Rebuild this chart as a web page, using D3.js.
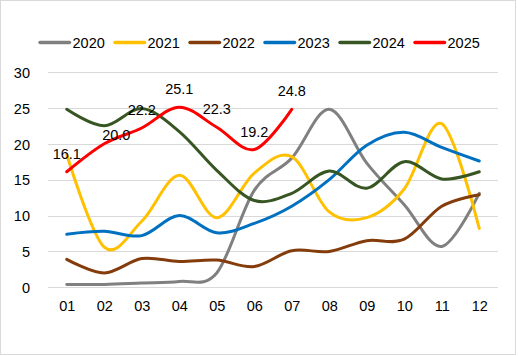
<!DOCTYPE html>
<html>
<head>
<meta charset="utf-8">
<script src="https://cdn.jsdelivr.net/npm/d3@7"></script>
<style>
  html, body { margin: 0; padding: 0; background: #fff; }
  svg { display: block; font-family: "Liberation Sans", Arial, sans-serif; }
</style>
</head>
<body>
<svg id="chart" width="518" height="356"></svg>
<script>
const months = ["01","02","03","04","05","06","07","08","09","10","11","12"];
const seriesNames = ["2020","2021","2022","2023","2024","2025"];
const seriesColors = ["#808080","#FFC000","#843C0C","#0070C0","#375623","#FF0000"];
const yTicks = [0,5,10,15,20,25,30];

const v2020 = [0.4,0.4,0.6,0.8,2.0,13.5,18.0,24.8,17.3,11.5,5.7,13.1];
const v2021 = [18.5,5.6,9.2,15.6,9.7,15.9,18.2,10.5,9.7,13.7,22.8,8.2];
const v2022 = [3.9,2.0,4.0,3.6,3.8,2.9,5.1,5.0,6.5,6.7,11.3,12.9];
const v2023 = [7.4,7.8,7.2,10.0,7.6,8.9,11.3,15.0,19.8,21.6,19.5,17.6];
const v2024 = [24.8,22.5,24.9,21.7,16.3,12.1,13.1,16.2,13.8,17.5,15.1,16.1];
const v2025 = [16.1,20.0,22.2,25.1,22.3,19.2,24.8];

const seriesValues = [v2020, v2021, v2022, v2023, v2024, v2025];

const svg = d3.select("#chart");
const W = 518, H = 356;
const margin = {left: 48, right: 20, top: 72, bottom: 69};

// chart border
svg.append("rect").attr("x",0.5).attr("y",0.5).attr("width",515).attr("height",354)
  .attr("fill","#fff").attr("stroke","#d9d9d9").attr("stroke-width",1);

const x = d3.scalePoint().domain(months).range([margin.left, W - margin.right]).padding(0.5);
const y = d3.scaleLinear().domain([0,30]).range([H - margin.bottom + 0.3, margin.top]);

// gridlines
svg.append("g").selectAll("line").data(yTicks).join("line")
  .attr("x1", margin.left).attr("x2", W - margin.right)
  .attr("y1", d => Math.round(y(d)) + 0.5).attr("y2", d => Math.round(y(d)) + 0.5)
  .attr("stroke", "#d9d9d9").attr("stroke-width", 1);

// y axis labels
const yAxis = d3.axisLeft(y).tickValues(yTicks).tickSize(0).tickPadding(0).tickFormat(d3.format("d"));
const gy = svg.append("g").attr("transform", `translate(${30},0)`).call(yAxis);
gy.select(".domain").remove();
gy.selectAll("text").attr("font-size", "14.5px").attr("fill", "#000")
  .attr("font-family", "Liberation Sans, Arial, sans-serif").attr("dy", "0.36em");

// x axis labels
const xAxis = d3.axisBottom(x).tickSize(0).tickPadding(0);
const gx = svg.append("g").attr("transform", `translate(0,${301})`).call(xAxis);
gx.select(".domain").remove();
gx.selectAll("text").attr("font-size", "14.5px").attr("fill", "#000")
  .attr("font-family", "Liberation Sans, Arial, sans-serif").attr("dy", "0.71em");

// lines
const line = d3.line()
  .x((d, i) => x(months[i]))
  .y(d => y(d))
  .curve(d3.curveCatmullRom.alpha(0));

seriesValues.forEach((vals, k) => {
  svg.append("path").datum(vals)
    .attr("d", line)
    .attr("fill", "none")
    .attr("stroke", seriesColors[k])
    .attr("stroke-width", 3)
    .attr("stroke-linecap", "round")
    .attr("stroke-linejoin", "round");
});

// data labels for 2025
const labelNudge = {1: [12, 9]};
svg.append("g").selectAll("text").data(v2025).join("text")
  .attr("x", (d, i) => x(months[i]) + (labelNudge[i] ? labelNudge[i][0] : 0))
  .attr("y", (d, i) => y(d) - 18 + (labelNudge[i] ? labelNudge[i][1] : 0))
  .attr("text-anchor", "middle")
  .attr("dominant-baseline", "central")
  .attr("font-size", "14.5px")
  .attr("fill", "#000")
  .text(d => d3.format(".1f")(d));

// legend
const legend = svg.append("g");
seriesNames.forEach((name, k) => {
  const lx = 40 + k * 75;
  const ly = 42.5;
  legend.append("line").attr("x1", lx).attr("x2", lx + 29.5)
    .attr("y1", ly).attr("y2", ly)
    .attr("stroke", seriesColors[k]).attr("stroke-width", 3.5).attr("stroke-linecap", "round");
  legend.append("text").attr("x", lx + 32.5).attr("y", ly)
    .attr("dominant-baseline", "central")
    .attr("font-size", "14.5px").attr("fill", "#000")
    .text(name);
});
</script>
</body>
</html>
